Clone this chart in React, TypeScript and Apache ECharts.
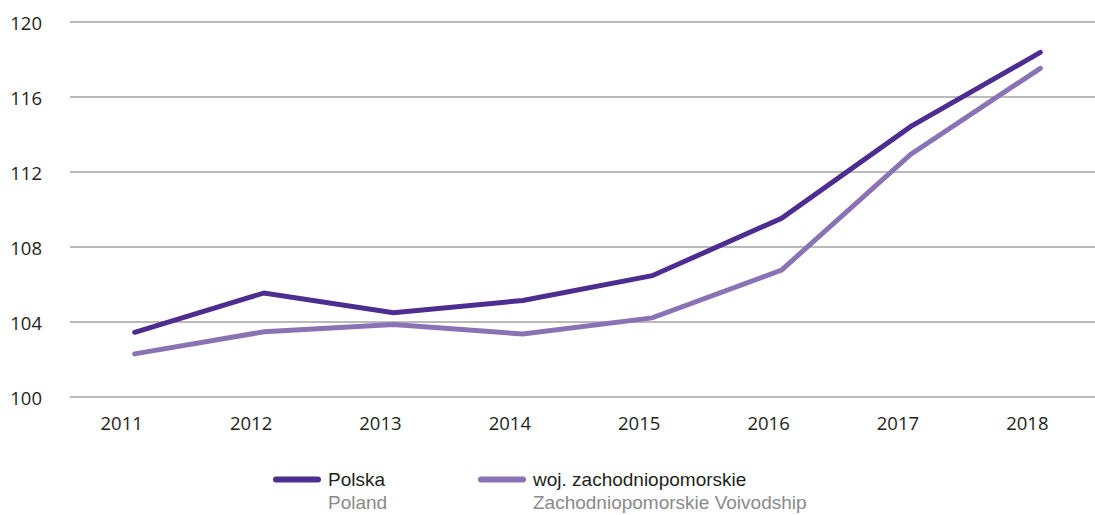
import React, { useEffect, useRef } from "react";
import * as echarts from "echarts";

const years = ["2011", "2012", "2013", "2014", "2015", "2016", "2017", "2018"];
const polska = [103.45, 105.55, 104.5, 105.15, 106.47, 109.53, 114.43, 118.38];
const zachodniopomorskie = [102.3, 103.48, 103.86, 103.36, 104.22, 106.77, 112.95, 117.53];
const seriesNames = ["Polska", "woj. zachodniopomorskie"];
const seriesNamesEn = ["Poland", "Zachodniopomorskie Voivodship"];

const FONT = "'Open Sans', 'Noto Sans', sans-serif";
const LFONT = "'Liberation Sans', Arial, sans-serif";
const C1 = "#4e2d91";
const C2 = "#8a73b5";

export default function App() {
  const ref = useRef<HTMLDivElement>(null);
  useEffect(() => {
    if (!ref.current) return;
    const chart = echarts.init(ref.current, null, { renderer: "svg" });
    const legendItem = (x: number, color: string, name: string, en: string) => ({
      type: "group",
      left: x,
      top: 470,
      children: [
        {
          type: "line",
          shape: { x1: 2, y1: 13, x2: 44, y2: 13 },
          style: { stroke: color, lineWidth: 6, lineCap: "round" },
        },
        {
          type: "text",
          x: 54,
          y: 13,
          style: {
            text: name,
            fill: "#231f20",
            font: `19px ${LFONT}`,
            verticalAlign: "middle",
          },
        },
        {
          type: "text",
          x: 54,
          y: 35.5,
          style: {
            text: en,
            fill: "#8a8a8a",
            font: `19px ${LFONT}`,
            verticalAlign: "middle",
          },
        },
      ],
    });
    chart.setOption({
      animation: false,
      grid: { left: 70, right: 0, top: 22, bottom: 118, containLabel: false },
      xAxis: {
        type: "category",
        data: years,
        boundaryGap: true,
        axisLine: { show: false },
        axisTick: { show: false },
        axisLabel: {
          color: "#231f20",
          fontSize: 18.5,
          fontFamily: FONT,
          margin: 16,
          padding: [0, 26, 0, 0],
        },
      },
      yAxis: {
        type: "value",
        min: 100,
        max: 120,
        interval: 4,
        axisLine: { show: false },
        axisTick: { show: false },
        axisLabel: {
          color: "#231f20",
          fontSize: 18.5,
          fontFamily: FONT,
          margin: 28,
        },
        splitLine: { lineStyle: { color: "#a3a3a3", width: 1.5 } },
      },
      series: [
        {
          name: seriesNames[0],
          type: "line",
          data: polska,
          symbol: "none",
          lineStyle: { color: C1, width: 5, cap: "round", join: "miter" },
          z: 3,
        },
        {
          name: seriesNames[1],
          type: "line",
          data: zachodniopomorskie,
          symbol: "none",
          lineStyle: { color: C2, width: 5, cap: "round", join: "miter" },
          z: 2,
        },
      ],
      graphic: [
        legendItem(273, C1, seriesNames[0], seriesNamesEn[0]),
        legendItem(478, C2, seriesNames[1], seriesNamesEn[1]),
      ],
    });
    return () => chart.dispose();
  }, []);
  return (
    <div
      ref={ref}
      style={{ position: "fixed", left: 0, top: 0, width: 1105, height: 515, background: "#fff" }}
    />
  );
}
